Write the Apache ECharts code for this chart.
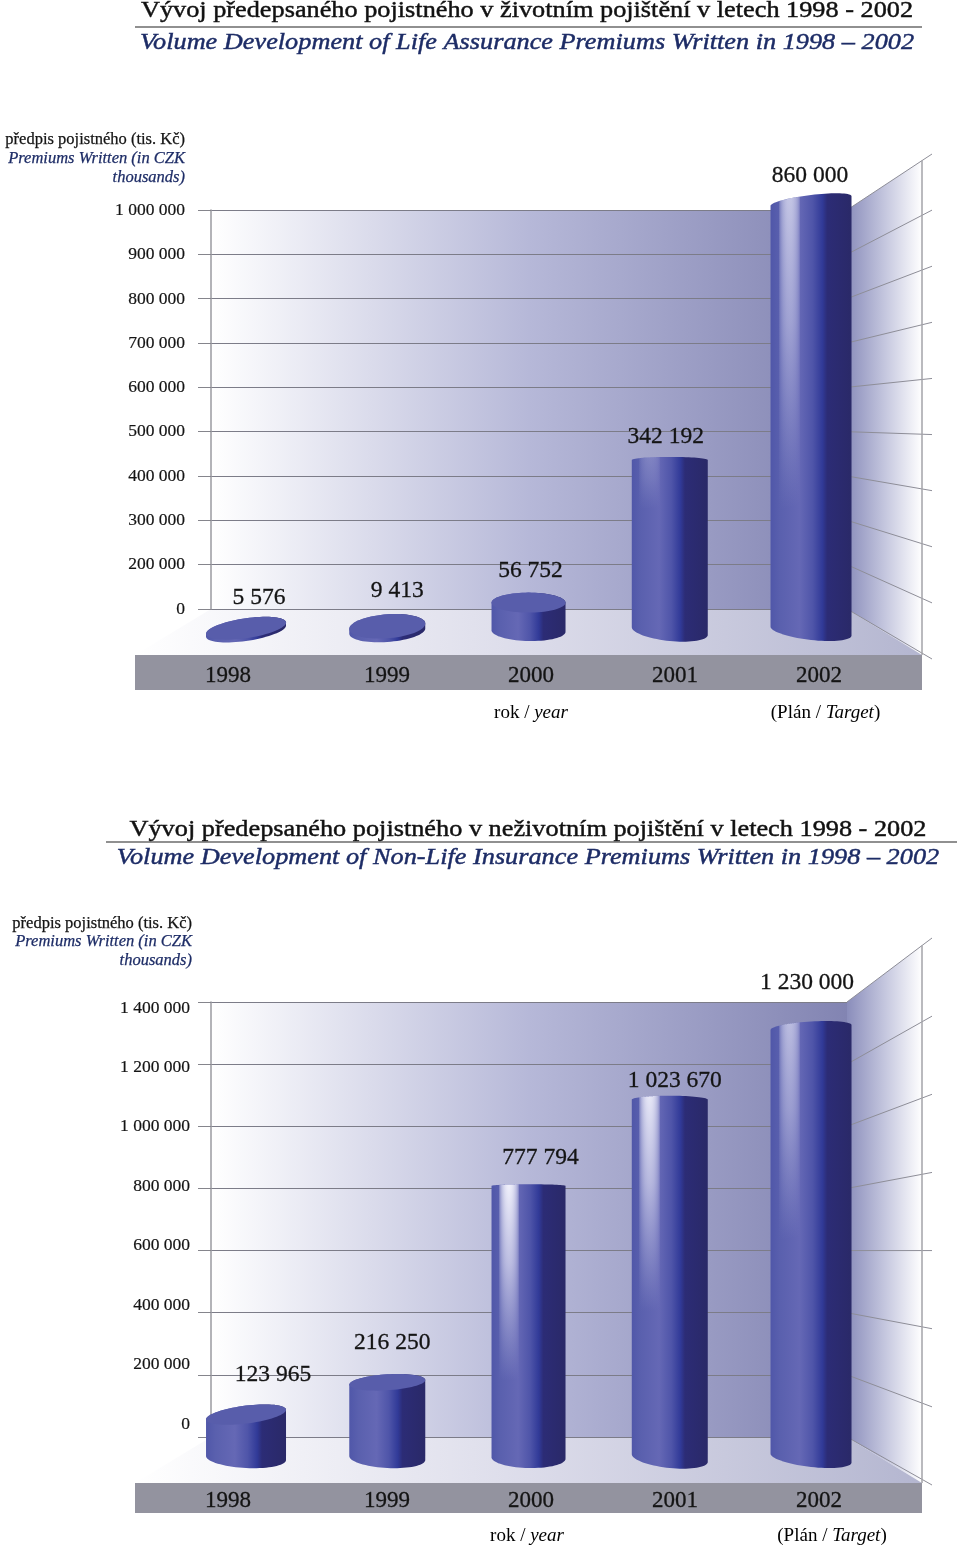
<!DOCTYPE html>
<html><head><meta charset="utf-8">
<style>html,body{margin:0;padding:0;background:#fff}#c{width:960px;height:1552px}</style>
<script src="https://cdn.jsdelivr.net/npm/echarts@6/dist/echarts.min.js"></script>
</head><body><div id="c"></div>
<script>
const categories = ['1998','1999','2000','2001','2002'];
const lifeValues = [5576, 9413, 56752, 342192, 860000];
const nonLifeValues = [123965, 216250, 777794, 1023670, 1230000];
const lifeTicks = ['0','200 000','300 000','400 000','500 000','600 000','700 000','800 000','900 000','1 000 000'];
const nonLifeTicks = ['0','200 000','400 000','600 000','800 000','1 000 000','1 200 000','1 400 000'];
const title1Cz = 'Vývoj předepsaného pojistného v životním pojištění v letech 1998 - 2002';
const title1En = 'Volume Development of Life Assurance Premiums Written in 1998 – 2002';
const title2Cz = 'Vývoj předepsaného pojistného v neživotním pojištění v letech 1998 - 2002';
const title2En = 'Volume Development of Non-Life Insurance Premiums Written in 1998 – 2002';

const SERIF = '"Liberation Serif", serif', NAVY = '#1d2c66', INK = '#141414';
const fmt = v => String(v).replace(/\B(?=(\d{3})+(?!\d))/g, ' ');
const charts = [
 {values:lifeValues, ticks:lifeTicks, max:1000000, wallTop:210, wallBot:609,
  endTop:154, endBot:659, labTop:210.5, labBot:609, labRight:185, nameRight:185, frontZero:631, frontH:500,
  floorBot:655, bandBot:690, yearCy:675,
  nameY:[140,159,178], footY:713, footX:[531,825.5],
  widths:[80,76,74,76,81], rys:[10,12,10,3,6], byr:[10,11,10,10,9], tilt:[-.14,-.07,0,0,-.12], baseTilt:[-.14,-.07,.02,.1,.11],
  hi:[0,0,0,.22,.68], fade:[0,0,0,.3,.72],
  ldx:[13,10,2,-4,-1], ldy:[-30,-35,-32,-23,-25]},
 {values:nonLifeValues, ticks:nonLifeTicks, max:1400000, wallTop:1002, wallBot:1437,
  endTop:938, endBot:1485, labTop:1008, labBot:1424, labRight:190, nameRight:192, frontZero:1458, frontH:490,
  floorBot:1483, bandBot:1513, yearCy:1500,
  nameY:[924,942,961], footY:1536, footX:[527,832],
  widths:[80,76,74,76,81], rys:[9,8,1.5,4,6], byr:[10,10,10,10,9], tilt:[-.12,-.06,0,0,-.06], baseTilt:[.05,.05,.02,.1,.11],
  hi:[0,0,.98,.92,.62], fade:[0,0,.72,.6,.5],
  ldx:[27,5,12,5,-4], ldy:[-40,-39,-28,-19,-45]}
];
const BODY = [[0,'#5057a9'],[.12,'#5a60ae'],[.36,'#6568b5'],[.52,'#4f55a9'],[.64,'#313a98'],[.7,'#2c2c76'],[1,'#2a2968']]
  .map(s=>({offset:s[0],color:s[1]}));
const hGrad = (a)=>new echarts.graphic.LinearGradient(0,0,1,0,a.map(s=>({offset:s[0],color:s[1]})));

const grid=[],xAxis=[],yAxis=[],series=[],graphic=[];
function hiddenX(g){return {gridIndex:g,type:'value',min:0,max:1,show:false};}

charts.forEach((c,ci)=>{
  const XL=211,XR=847,XF=922,XE=932;
  const sl=(c.endTop-c.wallTop)/(XE-XR);
  const rt=c.wallTop+sl*(XF-XR);
  graphic.push({type:'rect',z:-10,shape:{x:XL,y:c.wallTop,width:XR-XL,height:c.wallBot-c.wallTop},
    style:{fill:hGrad([[0,'#ffffff'],[.5,'#b6b8d8'],[1,'#8284b2']])}});
  graphic.push({type:'polygon',z:-10,shape:{points:[[XR,c.wallTop],[XF,rt],[XF,c.floorBot],[XR,c.wallBot]]},
    style:{fill:hGrad([[0,'#8a8dbb'],[.5,'#c4c6de'],[1,'#ffffff']])}});
  graphic.push({type:'polygon',z:-9,shape:{points:[[XL,c.wallBot],[XR,c.wallBot],[XF,c.floorBot],[135,c.floorBot]]},
    style:{fill:hGrad([[0,'#ffffff'],[.5,'#dcdcea'],[1,'#b4b6d0']])}});
  graphic.push({type:'rect',z:-9,shape:{x:135,y:c.floorBot,width:787,height:c.bandBot-c.floorBot},style:{fill:'#93939f'}});
  graphic.push({type:'line',z:5,shape:{x1:XF,y1:rt,x2:XF,y2:c.floorBot},style:{stroke:'#a3a3a8',lineWidth:1.5}});
  ['předpis pojistného (tis. Kč)','Premiums Written (in CZK','thousands)'].forEach((t,i)=>{
    graphic.push({type:'text',z:10,style:{text:t,x:c.nameRight,y:c.nameY[i],align:'right',verticalAlign:'middle',
      font:(i?'italic ':'')+'16.5px '+SERIF,fill:i?NAVY:INK,stroke:i?NAVY:INK,lineWidth:.25}});
  });
  const rich={a:{fontFamily:SERIF,fontSize:19,color:INK},b:{fontFamily:SERIF,fontSize:19,fontStyle:'italic',color:NAVY}};
  graphic.push({type:'text',z:10,style:{text:'{a|rok / }{b|year}',x:c.footX[0],y:c.footY,align:'center',verticalAlign:'middle',rich}});
  graphic.push({type:'text',z:10,style:{text:'{a|(Plán / }{b|Target}{a|)}',x:c.footX[1],y:c.footY,align:'center',verticalAlign:'middle',rich}});

  // grid A: back wall
  const gA=grid.length; grid.push({left:XL,width:XR-XL,top:c.wallTop,height:c.wallBot-c.wallTop});
  xAxis.push(hiddenX(gA));
  yAxis.push({gridIndex:gA,type:'category',boundaryGap:false,data:c.ticks,
    axisLine:{show:true,lineStyle:{color:'#9a9aa0',width:1.5}},
    axisTick:{show:true,interval:0,length:13,lineStyle:{color:'#85858c',width:1}},
    axisLabel:{show:false},splitLine:{show:true,interval:0,lineStyle:{color:'#7c7c88',width:1}}});
  // grid B: tick labels
  const gB=grid.length; grid.push({left:c.labRight+5,width:10,top:c.labTop,height:c.labBot-c.labTop});
  xAxis.push(hiddenX(gB));
  yAxis.push({gridIndex:gB,type:'category',boundaryGap:false,data:c.ticks,axisLine:{show:false},axisTick:{show:false},splitLine:{show:false},
    axisLabel:{interval:0,margin:5,fontFamily:SERIF,fontSize:17.5,color:INK,textBorderColor:INK,textBorderWidth:.2}});
  // grid C: front plane where the cylinders stand
  const gC=grid.length; grid.push({left:175.4,width:706.25,top:c.frontZero-c.frontH,height:c.frontH});
  xAxis.push({gridIndex:gC,type:'category',data:categories,show:false});
  yAxis.push({gridIndex:gC,type:'value',min:0,max:c.max,show:false});
  // grid D: year labels
  const gD=grid.length; grid.push({left:171,width:720,top:c.yearCy-15,height:1});
  xAxis.push({gridIndex:gD,type:'category',data:categories,axisLine:{show:false},axisTick:{show:false},
    axisLabel:{margin:3,interval:0,formatter:(v,i)=>i===0?'{f|'+v+'}':'{n|'+v+'}',
      rich:{f:{fontFamily:SERIF,fontSize:23,color:INK,textBorderColor:INK,textBorderWidth:.3,padding:[0,30,0,0]},n:{fontFamily:SERIF,fontSize:23,color:INK,textBorderColor:INK,textBorderWidth:.3}}}});
  yAxis.push({gridIndex:gD,type:'value',min:0,max:1,show:false});

  // side-wall rulings, one per tick of the back wall
  series.push({type:'custom',xAxisIndex:gA,yAxisIndex:gA,z:1,silent:true,clip:false,
    data:c.ticks.map((t,i)=>[1,i]),encode:{x:0,y:1},
    renderItem:(p,api)=>{
      const a=api.coord([1,api.value(1)]);
      const f=(a[1]-c.wallTop)/(c.wallBot-c.wallTop);
      return {type:'line',shape:{x1:a[0],y1:a[1],x2:XE,y2:c.endTop+f*(c.endBot-c.endTop)},style:{stroke:'#8e8e98',lineWidth:1}};
    }});

  // cylinders
  series.push({type:'custom',xAxisIndex:gC,yAxisIndex:gC,z:6,silent:true,clip:false,
    data:c.values.map((v,i)=>[i,v]),encode:{x:0,y:1},
    renderItem:(p,api)=>{
      const i=api.value(0),v=api.value(1);
      const top=api.coord([i,v]),base=api.coord([i,0]);
      const cx=top[0],rx=c.widths[i]/2,ry=c.rys[i],by=c.byr[i],t=c.tilt[i],bt=c.baseTilt[i];
      const pts=[];
      for(let k=0;k<=36;k++){const a=Math.PI*k/36,dx=-rx*Math.cos(a);
        pts.push([cx+dx,top[1]-ry*Math.sin(a)+t*dx]);}
      for(let k=0;k<=36;k++){const a=Math.PI*k/36,dx=rx*Math.cos(a);
        pts.push([cx+dx,base[1]+by*Math.sin(a)+bt*dx]);}
      const ch=[{type:'polygon',shape:{points:pts},style:{fill:new echarts.graphic.LinearGradient(0,0,1,0,BODY)}}];
      if(!c.hi[i]){
        const cap=[];
        for(let k=0;k<72;k++){const a=2*Math.PI*k/72,dx=rx*Math.cos(a);cap.push([cx+dx,top[1]+ry*Math.sin(a)+t*dx]);}
        ch.push({type:'polygon',shape:{points:cap},style:{fill:'#585dab'}});
      } else {
        const h=(base[1]-top[1])*c.fade[i];
        const x0=Math.round(cx-rx+.1*2*rx),x1=Math.round(cx-rx+.37*2*rx);
        for(let x=x0;x<x1;x++){
          const prof=Math.pow(Math.sin(Math.PI*(x-x0+.5)/(x1-x0)),.5);
          const dx=x+.5-cx,ux=dx/rx;
          const yt=top[1]-ry*Math.sqrt(Math.max(0,1-ux*ux))+t*dx;
          const a=c.hi[i]*prof;
          ch.push({type:'rect',shape:{x:x,y:yt,width:1,height:h},style:{fill:new echarts.graphic.LinearGradient(0,0,0,1,[
            {offset:0,color:'rgba(242,242,252,'+a+')'},{offset:.4,color:'rgba(228,228,246,'+a*.72+')'},{offset:1,color:'rgba(210,210,240,0)'}])}});
        }
      }
      return {type:'group',children:ch};
    }});

  // value labels
  series.push({type:'custom',xAxisIndex:gC,yAxisIndex:gC,z:8,silent:true,clip:false,
    data:c.values.map((v,i)=>[i,v]),encode:{x:0,y:1},
    renderItem:(p,api)=>{
      const i=api.value(0),v=api.value(1),a=api.coord([i,v]);
      return {type:'text',style:{text:fmt(v),x:a[0]+c.ldx[i],y:a[1]+c.ldy[i],align:'center',verticalAlign:'middle',font:'23.5px '+SERIF,fill:INK,stroke:INK,lineWidth:.3}};
    }});
});

function titleText(text,cx,cy,italic,color){
  graphic.push({type:'text',z:10,x:cx,y:cy,scaleX:1.1,originX:0,originY:0,
    style:{text,x:0,y:0,align:'center',verticalAlign:'middle',font:(italic?'italic ':'')+'23.9px '+SERIF,fill:color,stroke:color,lineWidth:.45}});
}
titleText(title1Cz,527,11,false,'#111');
titleText(title1En,527,43,true,NAVY);
titleText(title2Cz,528,830,false,'#111');
titleText(title2En,528,858,true,NAVY);
graphic.push({type:'line',shape:{x1:135,y1:27,x2:922,y2:27},style:{stroke:'#222',lineWidth:1.2}});
graphic.push({type:'line',shape:{x1:106,y1:842,x2:957,y2:842},style:{stroke:'#222',lineWidth:1.2}});

const chart=echarts.init(document.getElementById('c'),null,{renderer:'canvas'});
chart.setOption({animation:false,backgroundColor:'#fff',grid,xAxis,yAxis,series,graphic:{elements:graphic}});
</script></body></html>
